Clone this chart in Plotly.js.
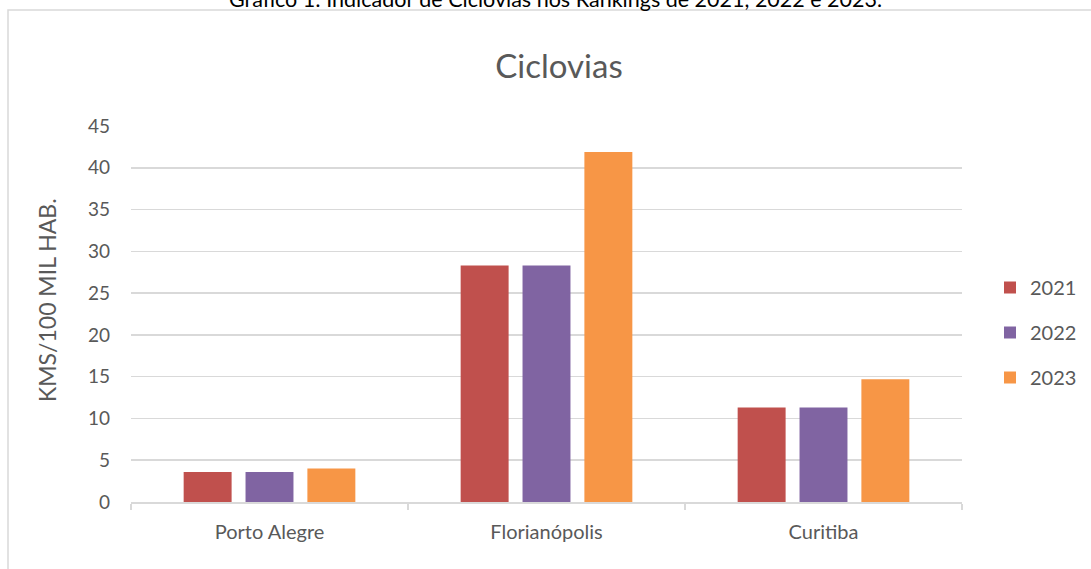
<!DOCTYPE html>
<html>
<head>
<meta charset="utf-8">
<script src="https://cdn.plot.ly/plotly-3.0.1.min.js"></script>
<style>
  html, body { margin: 0; padding: 0; background: #ffffff; }
  #chart { width: 1091px; height: 569px; }
</style>
</head>
<body>
<div id="chart"></div>
<script>
// ---- data ----
const cities = ["Porto Alegre", "Florianópolis", "Curitiba"];
const years = ["2021", "2022", "2023"];
const values2021 = [3.6, 28.3, 11.3];
const values2022 = [3.6, 28.3, 11.3];
const values2023 = [4.0, 41.9, 14.7];
const yTicks = [0, 5, 10, 15, 20, 25, 30, 35, 40, 45];
const colors = ["#C0504D", "#8064A2", "#F79646"];

const chartTitle = "Ciclovias";
const caption = "Gráfico 1: Indicador de Ciclovias nos Rankings de 2021, 2022 e 2023.";
const yTitle = "KMS/100 MIL HAB.";

const seriesValues = [values2021, values2022, values2023];
const FONT = "Lato, 'Open Sans', sans-serif";

const traces = years.map((yr, i) => ({
  type: "bar",
  name: yr,
  x: cities,
  y: seriesValues[i],
  marker: { color: colors[i], line: { width: 0 } },
  legendgroup: yr,
  hoverinfo: "x+y+name"
}));

const W = 1091, H = 569;
const mL = 131, mR = 129, mT = 126, mB = 67;
const pw = W - mL - mR, ph = H - mT - mB;
const px = v => (v - mL) / pw;
const py = v => (H - mB - v) / ph;

const layout = {
  width: W,
  height: H,
  margin: { l: mL, r: mR, t: mT, b: mB, pad: 0, autoexpand: false },
  paper_bgcolor: "#ffffff",
  plot_bgcolor: "#ffffff",
  font: { family: FONT, color: "#595959", size: 16 },
  title: {
    text: chartTitle,
    font: { family: FONT, size: 33, color: "#595959" },
    xref: "paper", x: px(559), xanchor: "center",
    yref: "container", y: 1 - 66 / H, yanchor: "middle"
  },
  barmode: "group",
  bargap: 0.33,
  bargroupgap: 0.225,
  showlegend: true,
  legend: {
    x: px(990), xanchor: "left",
    y: py(268), yanchor: "top",
    font: { family: FONT, size: 20, color: "#595959" },
    tracegroupgap: 16,
    itemwidth: 30,
    bgcolor: "rgba(0,0,0,0)"
  },
  xaxis: {
    type: "category",
    showgrid: false,
    showline: true,
    linecolor: "#d9d9d9",
    linewidth: 1.5,
    ticks: "outside",
    tickson: "boundaries",
    ticklen: 6,
    tickwidth: 1.5,
    tickcolor: "#d9d9d9",
    ticklabelstandoff: 11,
    tickfont: { family: FONT, size: 20, color: "#595959" },
    zeroline: false,
    fixedrange: true
  },
  yaxis: {
    range: [0, 45],
    tickvals: yTicks,
    ticktext: yTicks.map(String),
    showgrid: true,
    gridcolor: "#d9d9d9",
    gridwidth: 1.5,
    zeroline: false,
    showline: false,
    ticks: "",
    ticklabelstandoff: 20,
    tickfont: { family: FONT, size: 19, color: "#595959" },
    fixedrange: true
  },
  shapes: [
    {
      type: "rect", xref: "paper", yref: "paper",
      x0: px(8), x1: px(1100), y0: py(590), y1: py(10),
      line: { color: "#d9d9d9", width: 1.5 },
      fillcolor: "rgba(0,0,0,0)",
      layer: "below"
    }
  ],
  annotations: [
    {
      text: caption,
      xref: "paper", yref: "paper",
      x: px(555), xanchor: "center",
      y: py(-1), yanchor: "middle",
      showarrow: false,
      font: { family: FONT, size: 21.5, color: "#000000" }
    },
    {
      text: yTitle,
      xref: "paper", yref: "paper",
      x: px(47), xanchor: "center",
      y: py(300), yanchor: "middle",
      textangle: -90,
      showarrow: false,
      font: { family: FONT, size: 23, color: "#595959" }
    }
  ]
};

Plotly.newPlot("chart", traces, layout, { displayModeBar: false, staticPlot: true });
</script>
</body>
</html>
